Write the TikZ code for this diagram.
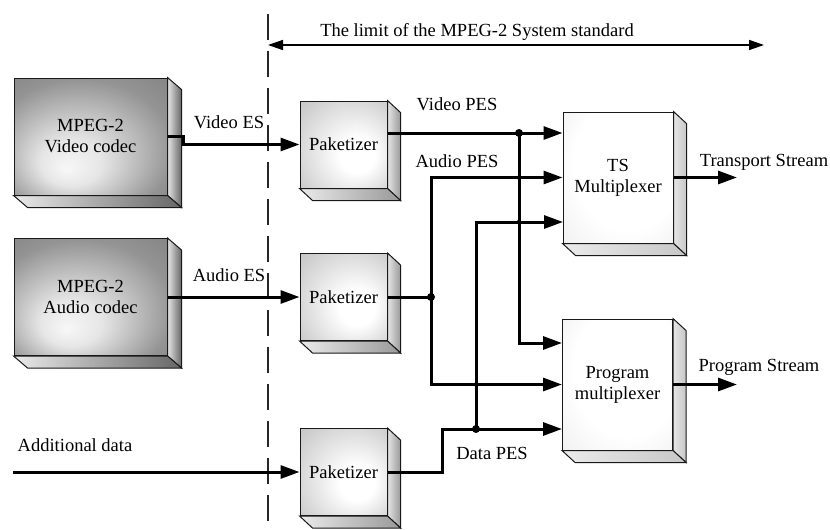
\documentclass[tikz,border=0pt]{standalone}
\usepackage{fontspec}
\setmainfont{Liberation Serif}
\usetikzlibrary{arrows.meta}

\pgfdeclareradialshading{codecfill}{\pgfpoint{-8bp}{-14bp}}{color(0bp)=(white!97!black); color(10bp)=(black!10); color(30bp)=(black!42); color(50bp)=(black!55)}
\pgfdeclareradialshading{pakfill}{\pgfpoint{10bp}{-8bp}}{color(0bp)=(white); color(10bp)=(white); color(40bp)=(black!24); color(50bp)=(black!28)}
\pgfdeclareradialshading{muxfill}{\pgfpoint{10bp}{10bp}}{color(0bp)=(white); color(25bp)=(white); color(50bp)=(black!10)}

\tikzset{
  box/.style={draw=black!90,line width=1pt,align=center,inner sep=0pt},
  codec/.style={box,shade,shading=codecfill,minimum width=153pt,minimum height=117pt},
  pak/.style={box,shade,shading=pakfill,minimum width=87pt,minimum height=87pt},
  mux/.style={box,shade,shading=muxfill,minimum width=110pt,minimum height=131pt},
  sideface/.style={draw=black!90,line width=1pt,left color=white!90!black,right color=black!#1},
  lowface/.style={draw=black!90,line width=1pt,left color=black!8,right color=black!#1},
  wire/.style={line width=3pt},
  flow/.style={wire,-{Triangle[length=19pt,width=13pt]}},
  limit/.style={line width=1.5pt,{Triangle[length=15pt,width=10pt]}-{Triangle[length=15pt,width=10pt]}},
  boundary/.style={line width=1.2pt,black!85,dash pattern=on 26pt off 11pt}
}

\begin{document}
\begin{tikzpicture}[x=1pt,y=-1pt,font=\fontsize{18.5}{21}\selectfont]
\useasboundingbox (0,0) rectangle (830,530);

\node[codec] (vcodec) at (90.5,136.5) {MPEG-2\\Video codec};
\node[codec] (acodec) at (90.5,297) {MPEG-2\\Audio codec};
\node[pak] (pak1) at (343.5,144.5) {Paketizer};
\node[pak] (pak2) at (343.5,297) {Paketizer};
\node[pak] (pak3) at (343.5,472) {Paketizer};
\node[mux] (tsmux) at (618,177.5) {TS\\Multiplexer};
\node[mux] (pmux) at (617.5,384.5) {Program\\multiplexer};

\foreach \b/\d/\g in {vcodec/14/60,acodec/14/60,pak1/13/40,pak2/13/40,pak3/13/40,tsmux/13/22,pmux/13/22} {
  \draw[sideface=\g] (\b.north east) -- ++(\d,12) -- ([shift={(\d,12)}]\b.south east) -- (\b.south east) -- cycle;
  \draw[lowface=\g] (\b.south west) -- ++(\d,12) -- ([shift={(\d,12)}]\b.south east) -- (\b.south east) -- cycle;
}

\node (vesl) at (229,122) {Video ES};
\node (aesl) at (229,275) {Audio ES};
\node (addl) at (75,445) {Additional data};
\node (vpesl) at (457,104) {Video PES};
\node (apesl) at (457,161) {Audio PES};
\node (dpesl) at (492,453) {Data PES};
\node (tsl) at (764,162) {Transport Stream};
\node (psl) at (759,367) {Program Stream};
\node (stdl) at (477,32) {The limit of the MPEG-2 System standard};

\coordinate (bndtop) at (268,14);
\coordinate (bndbot) at (268,530);
\coordinate (stdw) at (268,45);
\coordinate (stde) at (764,45);
\coordinate (adin) at (13,472);
\coordinate (jv) at (519,133);
\coordinate (ja) at (431,297);
\coordinate (jd) at (476,429);
\coordinate (tsin3) at (563,222);
\coordinate (pmin1) at (562,343);
\coordinate (tsout) at (737,177.5);
\coordinate (psout) at (737,384.5);

\draw[boundary] (bndtop) -- (bndbot);
\draw[limit] (stdw) -- (stde);

\draw[flow] (vcodec.east) -- ++(16,0) |- (pak1.west);
\draw[flow] (acodec) -- (pak2);
\draw[flow] (adin) -- (pak3);

\draw[wire] (pak1.east |- jv) -- (jv);
\draw[flow] (jv) -- (jv -| tsmux.west);
\draw[flow] (jv) |- (pmin1);
\draw[wire] (pak2) -- (ja);
\draw[flow] (ja) |- (tsmux.west);
\draw[flow] (ja) |- (pmux.west);
\draw[flow] (pak3.east) -- ++(55,0) |- (jd) -- (jd -| pmux.west);
\draw[flow] (jd) |- (tsin3);
\draw[flow] (tsmux.east) -- (tsout);
\draw[flow] (pmux.east) -- (psout);

\fill (jv) circle (4);
\fill (ja) circle (4);
\fill (jd) circle (4);
\fill (jv |- tsmux.west) circle (2.2);
\fill (jv |- tsin3) circle (2.2);
\fill (jd |- pmux.west) circle (2.2);
\end{tikzpicture}
\end{document}
